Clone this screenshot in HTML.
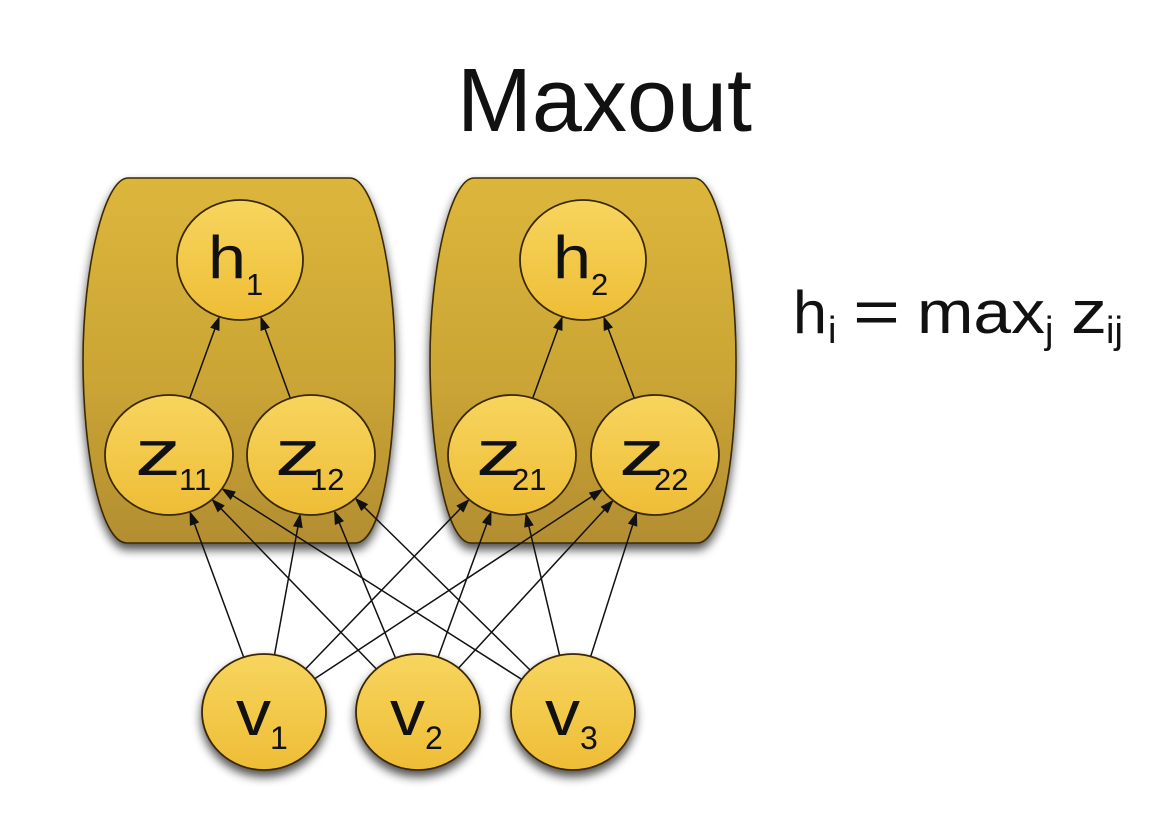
<!DOCTYPE html>
<html><head><meta charset="utf-8"><style>
html,body{margin:0;padding:0;background:#fff;}
svg{display:block;}
text{font-family:"Liberation Sans",Arial,sans-serif;fill:#111;}
</style></head><body>
<svg width="1162" height="823" viewBox="0 0 1162 823" xmlns="http://www.w3.org/2000/svg">
<defs>
<linearGradient id="box" x1="0" y1="0" x2="0" y2="1">
<stop offset="0" stop-color="#dcb63b"/><stop offset="0.55" stop-color="#cba535"/><stop offset="1" stop-color="#b38e30"/>
</linearGradient>
<linearGradient id="node" x1="0" y1="0" x2="0" y2="1">
<stop offset="0" stop-color="#f7d55e"/><stop offset="1" stop-color="#eebd36"/>
</linearGradient>
<filter id="sh" x="-20%" y="-20%" width="140%" height="150%">
<feGaussianBlur in="SourceAlpha" stdDeviation="5"/>
<feOffset dx="0" dy="6" result="b"/>
<feComponentTransfer><feFuncA type="linear" slope="0.7"/></feComponentTransfer>
<feMerge><feMergeNode/><feMergeNode in="SourceGraphic"/></feMerge>
</filter>
</defs>

<!-- title -->
<text x="457" y="131" font-size="90" textLength="295" lengthAdjust="spacingAndGlyphs">Maxout</text>

<!-- boxes -->
<path filter="url(#sh)" d="M128,178 L350,178 C374,178 395,270 395,360 C395,450 382,543 355,543 L127,543 C100,543 83,450 83,360 C83,270 104,178 128,178 Z" fill="url(#box)" stroke="#3a2a05" stroke-width="1.6"/>
<path filter="url(#sh)" d="M474,178 L694,178 C718,178 736,270 736,360 C736,450 724,543 697,543 L471,543 C446,543 430,450 430,360 C430,270 450,178 474,178 Z" fill="url(#box)" stroke="#3a2a05" stroke-width="1.6"/>

<!-- connectors -->
<g stroke="#111" stroke-width="1.5" fill="none">
<line x1="189.7" y1="398.2" x2="216.9" y2="323.4"/>
<line x1="290.3" y1="398.2" x2="263.1" y2="323.4"/>
<line x1="532.7" y1="398.2" x2="559.9" y2="323.4"/>
<line x1="634.3" y1="398.2" x2="606.2" y2="323.4"/>

<line x1="243.7" y1="657.2" x2="192.4" y2="518.3"/>
<line x1="274.5" y1="654.8" x2="299.0" y2="520.9"/>
<line x1="305.5" y1="669.0" x2="465.0" y2="503.8"/>
<line x1="314.7" y1="678.7" x2="597.6" y2="492.7"/>

<line x1="376.4" y1="669.0" x2="216.9" y2="504.4"/>
<line x1="395.5" y1="658.0" x2="337.0" y2="517.3"/>
<line x1="438.1" y1="657.1" x2="488.8" y2="518.3"/>
<line x1="458.4" y1="668.2" x2="608.4" y2="505.4"/>

<line x1="521.7" y1="679.4" x2="227.9" y2="492.5"/>
<line x1="530.2" y1="670.1" x2="360.2" y2="503.2"/>
<line x1="559.6" y1="655.4" x2="527.5" y2="520.4"/>
<line x1="590.7" y1="656.4" x2="634.5" y2="519.2"/>
</g>
<g fill="#111" stroke="#111" stroke-width="0.6" stroke-linejoin="miter">
<polygon points="219.3,316.8 219.09,330.56 210.63,327.48"/>
<polygon points="260.7,316.8 269.37,327.48 260.91,330.56"/>
<polygon points="562.3,316.8 562.09,330.56 553.63,327.48"/>
<polygon points="603.7,316.8 612.48,327.39 604.06,330.55"/>

<polygon points="189.9,511.7 198.63,522.33 190.19,525.45"/>
<polygon points="300.2,514.1 302.29,527.70 293.43,526.08"/>
<polygon points="469.1,499.5 463.31,511.99 456.83,505.73"/>
<polygon points="602.6,489.4 594.21,500.30 589.27,492.78"/>

<polygon points="212.0,499.4 224.28,505.61 217.82,511.87"/>
<polygon points="334.3,510.8 343.45,521.07 335.15,524.53"/>
<polygon points="491.2,511.7 490.96,525.46 482.50,522.36"/>
<polygon points="613.2,500.3 607.70,512.91 601.08,506.81"/>

<polygon points="222.0,488.7 235.39,491.88 230.55,499.48"/>
<polygon points="355.2,498.3 367.63,504.19 361.33,510.61"/>
<polygon points="525.9,513.6 533.28,525.21 524.52,527.29"/>
<polygon points="636.6,512.5 636.94,526.25 628.36,523.51"/>
</g>

<!-- nodes -->
<g fill="url(#node)" stroke="#3a2800" stroke-width="1.8">
<ellipse cx="240" cy="260" rx="63" ry="60"/>
<ellipse cx="583" cy="260" rx="63" ry="60"/>
<ellipse cx="169" cy="455" rx="64" ry="60"/>
<ellipse cx="311" cy="455" rx="64" ry="60"/>
<ellipse cx="512" cy="455" rx="64" ry="60"/>
<ellipse cx="655" cy="455" rx="64" ry="60"/>
</g>
<g fill="url(#node)" stroke="#3a2800" stroke-width="1.8" filter="url(#sh)">
<ellipse cx="264" cy="712" rx="62" ry="58"/>
<ellipse cx="418" cy="712" rx="62" ry="58"/>
<ellipse cx="573" cy="712" rx="62" ry="58"/>
</g>

<!-- node labels -->
<text x="208" y="278" font-size="60" textLength="38" lengthAdjust="spacingAndGlyphs">h</text>
<text x="246" y="295" font-size="31">1</text>
<text x="553" y="278" font-size="60" textLength="38" lengthAdjust="spacingAndGlyphs">h</text>
<text x="591" y="295" font-size="31">2</text>

<text x="135" y="475" font-size="64" textLength="46" lengthAdjust="spacingAndGlyphs">z</text>
<text x="179" y="490" font-size="31">11</text>
<text x="275" y="475" font-size="64" textLength="46" lengthAdjust="spacingAndGlyphs">z</text>
<text x="310" y="490" font-size="31">12</text>
<text x="476" y="475" font-size="64" textLength="46" lengthAdjust="spacingAndGlyphs">z</text>
<text x="512" y="490" font-size="31">21</text>
<text x="619" y="475" font-size="64" textLength="46" lengthAdjust="spacingAndGlyphs">z</text>
<text x="654" y="490" font-size="31">22</text>

<text x="236" y="735" font-size="64" textLength="35" lengthAdjust="spacingAndGlyphs">v</text>
<text x="270" y="749" font-size="32">1</text>
<text x="390" y="735" font-size="64" textLength="35" lengthAdjust="spacingAndGlyphs">v</text>
<text x="425" y="749" font-size="32">2</text>
<text x="545" y="735" font-size="64" textLength="35" lengthAdjust="spacingAndGlyphs">v</text>
<text x="580" y="749" font-size="32">3</text>

<!-- formula -->
<text x="793" y="333" font-size="60" textLength="34" lengthAdjust="spacingAndGlyphs">h</text>
<text x="828" y="343" font-size="38">i</text>
<text x="853" y="333" font-size="62" textLength="47" lengthAdjust="spacingAndGlyphs">=</text>
<text x="917" y="333" font-size="60" textLength="128" lengthAdjust="spacingAndGlyphs">max</text>
<text x="1045" y="343" font-size="38">j</text>
<text x="1071" y="333" font-size="60" textLength="36" lengthAdjust="spacingAndGlyphs">z</text>
<text x="1106" y="343" font-size="38">ij</text>
</svg>
</body></html>
